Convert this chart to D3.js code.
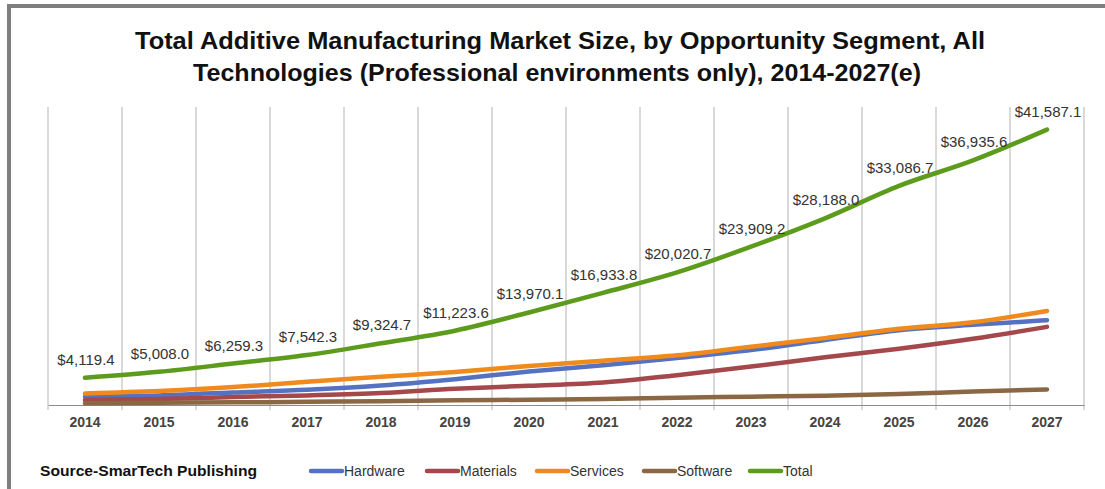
<!DOCTYPE html>
<html>
<head>
<meta charset="utf-8">
<script src="https://cdn.jsdelivr.net/npm/d3@7"></script>
<style>
  body { margin: 0; background: #fff; }
  svg { display: block; font-family: "Liberation Sans", Arial, sans-serif; }
</style>
</head>
<body>
<div id="chart"></div>
<script>
var years = ["2014", "2015", "2016", "2017", "2018", "2019", "2020",
             "2021", "2022", "2023", "2024", "2025", "2026", "2027"];

// values in $ millions
var hardware = [1300, 1450, 1900, 2300, 2950, 3900, 5050, 6000, 7100, 8300, 9800, 11300, 12100, 12800];
var materials = [750, 900, 1200, 1450, 1800, 2450, 2900, 3400, 4500, 5800, 7200, 8500, 10000, 11800];
var services = [1750, 2100, 2700, 3500, 4250, 5000, 5900, 6700, 7500, 8800, 10100, 11500, 12500, 14200];
var software = [250, 330, 400, 480, 580, 700, 800, 900, 1100, 1250, 1400, 1650, 2050, 2350];
var total = [4119.4, 5008.0, 6259.3, 7542.3, 9324.7, 11223.6, 13970.1,
             16933.8, 20020.7, 23909.2, 28188.0, 33086.7, 36935.6, 41587.1];

var seriesNames = ["Hardware", "Materials", "Services", "Software", "Total"];
var seriesValues = [hardware, materials, services, software, total];
var seriesColors = ["#5572c2", "#a4484b", "#f08a1d", "#8b6843", "#5c9b1c"];

var width = 1105, height = 489;
var svg = d3.select("#chart").append("svg")
    .attr("width", width)
    .attr("height", height);

// outer frame
svg.append("rect")
    .attr("x", 9).attr("y", 6)
    .attr("width", 1200).attr("height", 700)
    .attr("fill", "none")
    .attr("stroke", "#7f7f7f")
    .attr("stroke-width", 4);

// title (condensed bold face in the original, so stretch to its width)
var title = svg.append("text")
    .attr("text-anchor", "middle")
    .attr("font-weight", "bold")
    .attr("font-size", 24)
    .attr("fill", "#111");
title.append("tspan").attr("x", 560).attr("y", 49)
    .attr("textLength", 850).attr("lengthAdjust", "spacingAndGlyphs")
    .text("Total Additive Manufacturing Market Size, by Opportunity Segment, All");
title.append("tspan").attr("x", 557).attr("y", 81)
    .attr("textLength", 728).attr("lengthAdjust", "spacingAndGlyphs")
    .text("Technologies (Professional environments only), 2014-2027(e)");

var x = d3.scaleBand()
    .domain(years)
    .range([48, 1084]);

var y = d3.scaleLinear()
    .domain([0, 45000])
    .range([405, 107]);

var cx = function(i) { return x(years[i]) + x.bandwidth() / 2; };

// vertical gridlines at category boundaries (they also make the tick marks)
var bounds = years.map(function(d) { return x(d); }).concat([x.range()[1]]);
svg.append("g").selectAll("line")
    .data(bounds)
    .enter().append("line")
    .attr("x1", function(d) { return d; })
    .attr("x2", function(d) { return d; })
    .attr("y1", y(45000))
    .attr("y2", 410)
    .attr("stroke", "#b3b3b3")
    .attr("stroke-width", 1);

// x axis
var xAxis = svg.append("g")
    .attr("transform", "translate(0," + y(0) + ")")
    .call(d3.axisBottom(x).tickSize(0).tickPadding(12));
xAxis.select(".domain").attr("stroke", "#8c8c8c");
xAxis.selectAll("text")
    .attr("font-family", "Liberation Sans, Arial, sans-serif")
    .attr("font-size", 14)
    .attr("font-weight", "bold")
    .attr("fill", "#444");

// lines
var line = d3.line()
    .x(function(d, i) { return cx(i); })
    .y(function(d) { return y(d); })
    .curve(d3.curveMonotoneX);

svg.append("g").selectAll("path")
    .data(seriesValues)
    .enter().append("path")
    .attr("d", line)
    .attr("fill", "none")
    .attr("stroke", function(d, i) { return seriesColors[i]; })
    .attr("stroke-width", 4.5)
    .attr("stroke-linecap", "round")
    .attr("stroke-linejoin", "round");

// total data labels
var fmt = d3.format(",.1f");
svg.append("g").selectAll("text")
    .data(total)
    .enter().append("text")
    .attr("x", function(d, i) { return cx(i) + 1; })
    .attr("y", function(d) { return y(d) - 13; })
    .attr("text-anchor", "middle")
    .attr("font-size", 15)
    .attr("fill", "#333")
    .text(function(d) { return "$" + fmt(d); });

// source note
svg.append("text")
    .attr("x", 40).attr("y", 476)
    .attr("font-size", 15)
    .attr("font-weight", "bold")
    .attr("fill", "#111")
    .attr("textLength", 217).attr("lengthAdjust", "spacingAndGlyphs")
    .text("Source-SmarTech Publishing");

// legend
var legendX = [311, 427, 537, 644, 750];
var legend = svg.append("g").selectAll("g")
    .data(seriesNames)
    .enter().append("g")
    .attr("transform", function(d, i) { return "translate(" + legendX[i] + ",471)"; });
legend.append("line")
    .attr("x1", 0).attr("x2", 31)
    .attr("stroke", function(d, i) { return seriesColors[i]; })
    .attr("stroke-width", 4.5)
    .attr("stroke-linecap", "round");
legend.append("text")
    .attr("x", 33).attr("y", 5)
    .attr("font-size", 14)
    .attr("fill", "#333")
    .text(function(d) { return d; });
</script>
</body>
</html>
